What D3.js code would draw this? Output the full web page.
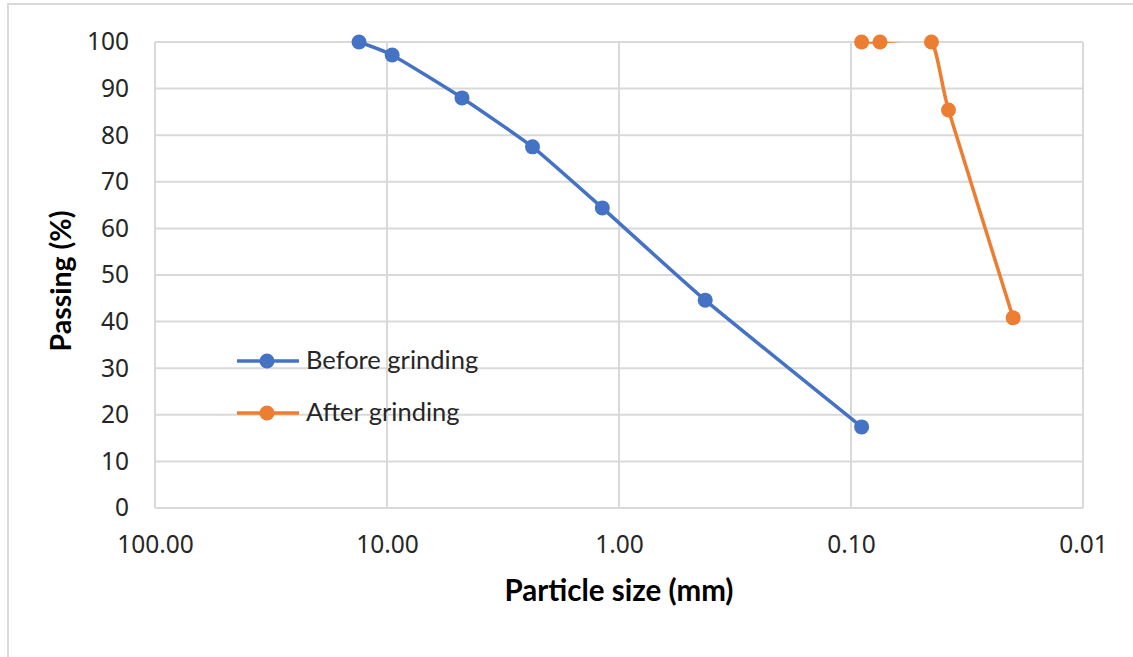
<!DOCTYPE html>
<html>
<head>
<meta charset="utf-8">
<script src="https://cdn.jsdelivr.net/npm/d3@7"></script>
<style>
  html, body { margin: 0; padding: 0; background: #ffffff; }
  svg { display: block; }
</style>
</head>
<body>
<svg id="chart" width="1133" height="657"></svg>
<script>
// Particle size distribution (sieve analysis), before and after grinding
const beforeSize    = [13.2, 9.5, 4.75, 2.36, 1.18, 0.425, 0.09];
const beforePassing = [100, 97.2, 88.0, 77.5, 64.4, 44.6, 17.4];

const afterSize     = [0.09, 0.075, 0.045, 0.038, 0.02];
const afterPassing  = [100, 100, 100, 85.4, 40.8];

const xTickValues = [100, 10, 1, 0.1, 0.01];
const yTickValues = [0, 10, 20, 30, 40, 50, 60, 70, 80, 90, 100];

const seriesNames  = ["Before grinding", "After grinding"];
const seriesColors = ["#4472C4", "#ED7D31"];

const W = 1133, H = 657;
const plot = { left: 155, right: 1083, top: 42, bottom: 508 };

const svg = d3.select("#chart");
const gridColor = "#d9d9d9";
const tickFont = "'Noto Sans', 'Open Sans', sans-serif";
const labelFont = "Lato, 'Noto Sans', sans-serif";

// Outer chart frame
svg.append("rect")
  .attr("x", 8).attr("y", 4)
  .attr("width", W + 20).attr("height", H + 20)
  .attr("fill", "#fff")
  .attr("stroke", gridColor).attr("stroke-width", 2);

const x = d3.scaleLog().domain([100, 0.01]).range([plot.left, plot.right]);
const y = d3.scaleLinear().domain([0, 100]).range([plot.bottom, plot.top]);

// Gridlines
const grid = svg.append("g");
grid.selectAll("line.h").data(yTickValues).join("line")
  .attr("class", "h")
  .attr("x1", plot.left).attr("x2", plot.right)
  .attr("y1", d => y(d)).attr("y2", d => y(d))
  .attr("stroke", gridColor).attr("stroke-width", 2);
grid.selectAll("line.v").data(xTickValues).join("line")
  .attr("class", "v")
  .attr("x1", d => x(d)).attr("x2", d => x(d))
  .attr("y1", plot.top).attr("y2", plot.bottom)
  .attr("stroke", gridColor).attr("stroke-width", 2);

// Axes (labels only; lines come from the grid)
const xAxis = svg.append("g")
  .attr("transform", `translate(0,${plot.bottom})`)
  .call(d3.axisBottom(x).tickValues(xTickValues).tickFormat(d3.format(".2f")).tickSize(0).tickPadding(28));
const yAxis = svg.append("g")
  .attr("transform", `translate(${plot.left},0)`)
  .call(d3.axisLeft(y).tickValues(yTickValues).tickSize(0).tickPadding(26));
[xAxis, yAxis].forEach(a => {
  a.select(".domain").remove();
  a.selectAll("text")
    .attr("font-family", tickFont)
    .attr("font-size", 24.5)
    .attr("fill", "#262626");
});

// Clip lines to the plot area
svg.append("clipPath").attr("id", "plotClip")
  .append("rect")
  .attr("x", plot.left).attr("y", plot.top)
  .attr("width", plot.right - plot.left).attr("height", plot.bottom - plot.top);

const line = d3.line()
  .x(d => x(d[0])).y(d => y(d[1]))
  .curve(d3.curveCardinal.tension(0.5));

const series = [
  d3.zip(beforeSize, beforePassing),
  d3.zip(afterSize, afterPassing)
];

series.forEach((pts, i) => {
  svg.append("path")
    .attr("d", line(pts))
    .attr("fill", "none")
    .attr("stroke", seriesColors[i])
    .attr("stroke-width", 3.5)
    .attr("stroke-linejoin", "round")
    .attr("clip-path", "url(#plotClip)");
  svg.append("g").selectAll("circle").data(pts).join("circle")
    .attr("cx", d => x(d[0])).attr("cy", d => y(d[1]))
    .attr("r", 7.5)
    .attr("fill", seriesColors[i]);
});

// Legend
const legend = svg.append("g");
seriesNames.forEach((name, i) => {
  const ly = 361 + i * 52;
  legend.append("line")
    .attr("x1", 237).attr("x2", 299).attr("y1", ly).attr("y2", ly)
    .attr("stroke", seriesColors[i]).attr("stroke-width", 3.5);
  legend.append("circle")
    .attr("cx", 267).attr("cy", ly).attr("r", 7.5)
    .attr("fill", seriesColors[i]);
  legend.append("text")
    .attr("x", 306).attr("y", ly + 8)
    .attr("font-family", labelFont)
    .attr("font-size", 25.5)
    .attr("fill", "#262626")
    .text(name);
});

// Axis titles
svg.append("text")
  .attr("x", (plot.left + plot.right) / 2).attr("y", 601)
  .attr("text-anchor", "middle")
  .attr("font-family", labelFont)
  .attr("font-weight", "bold")
  .attr("font-size", 29.5)
  .attr("fill", "#000")
  .text("Particle size (mm)");

svg.append("text")
  .attr("transform", `translate(71,${(plot.top + plot.bottom) / 2 + 6}) rotate(-90)`)
  .attr("text-anchor", "middle")
  .attr("font-family", labelFont)
  .attr("font-weight", "bold")
  .attr("font-size", 28.5)
  .attr("fill", "#000")
  .text("Passing (%)");
</script>
</body>
</html>
